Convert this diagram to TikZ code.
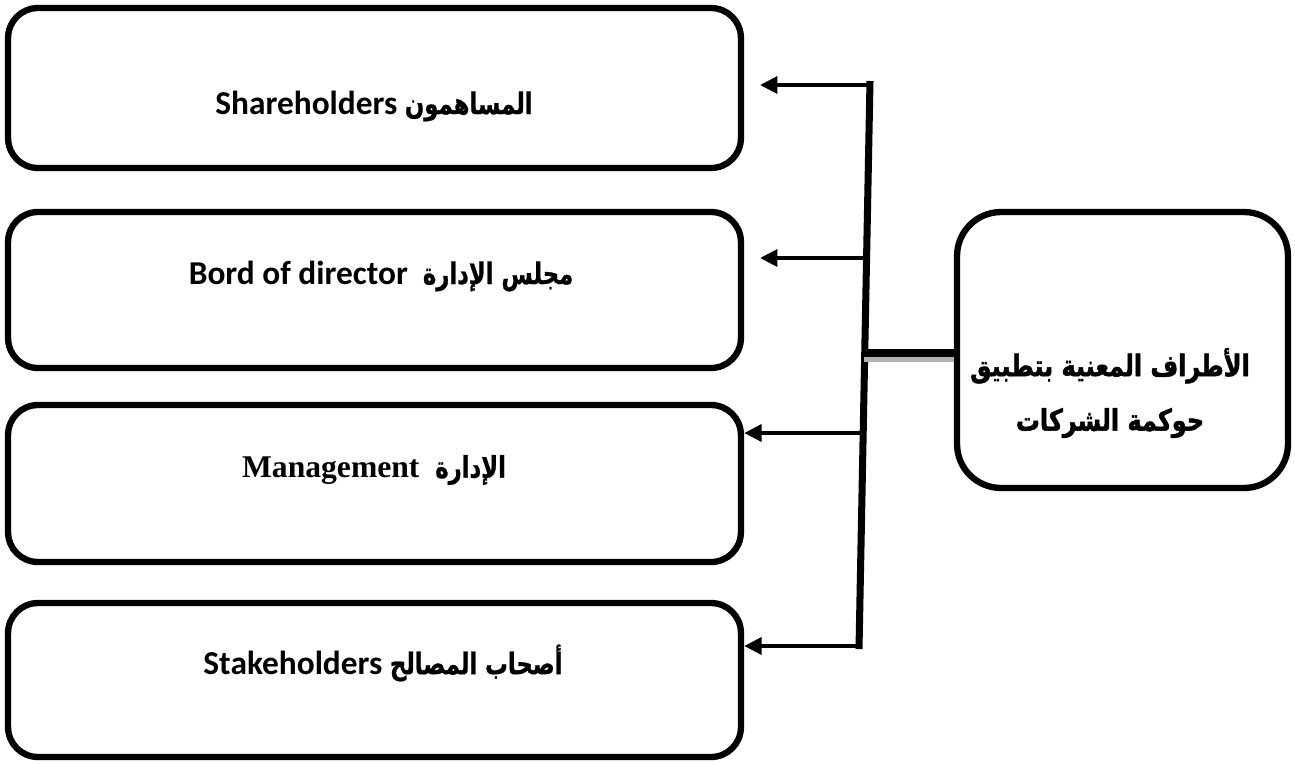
\documentclass[tikz,border=0pt]{standalone}
\usepackage{fontspec}
\setmainfont{Liberation Serif}
\newfontfamily\calibrifont{Carlito}
\newfontfamily\arabicfont[Script=Arabic, FakeStretch=0.76, FakeBold=0.8]{DejaVu Sans}
\newfontfamily\arabictitle[Script=Arabic, FakeStretch=0.8, FakeBold=1.6]{DejaVu Sans}
\TeXXeTstate=1
\usetikzlibrary{arrows.meta}

\begin{document}
\begin{tikzpicture}[x=0.02cm, y=-0.02cm,
  partybox/.style={draw, line width=3.6pt, rounded corners=17pt,
    minimum width=14.66cm, inner sep=0pt},
  govbox/.style={draw, line width=3.6pt, rounded corners=25pt,
    minimum width=6.62cm, minimum height=5.52cm, inner sep=0pt},
  latinlabel/.style={font=\calibrifont\bfseries\fontsize{19}{23}\selectfont},
  seriflabel/.style={font=\bfseries\fontsize{18}{22}\selectfont},
  arlabel/.style={font=\arabictitle\bfseries\fontsize{17}{31}\selectfont, align=center},
  trunk/.style={line width=4pt},
  branch/.style={line width=2.7pt, -{Triangle[length=10pt,width=9.5pt]}},
]
\useasboundingbox (0,0) rectangle (1295,765);

% the four parties on the left
\node[partybox, minimum height=3.2cm]  (sh)  at (374.5,88)  {};
\node[partybox, minimum height=3.12cm] (bod) at (374.5,290) {};
\node[partybox, minimum height=3.14cm] (mgt) at (374.5,483.5) {};
\node[partybox, minimum height=3.08cm] (stk) at (374.5,680) {};

\newcommand\arpart[1]{{\arabicfont\bfseries\fontsize{17}{20}\selectfont\beginR #1\endR}}
\node[latinlabel] (shT)  at (374,106) {Shareholders \arpart{المساهمون}};
\node[latinlabel] (bodT) at (381,276) {Bord of director\ \ \arpart{مجلس الإدارة}};
\node[seriflabel] (mgtT) at (374,470) {Management\ \ \arpart{الإدارة}};
\node[latinlabel] (stkT) at (383,663) {Stakeholders \arpart{أصحاب المصالح}};

% the governance box on the right
\node[govbox] (gov) at (1122.5,350) {};
\node[arlabel] (govT) at (1110,393) {\beginR الأطراف المعنية بتطبيق\endR\\ \beginR حوكمة الشركات\endR};

% vertical trunk and its junctions
\coordinate (tTop) at (870,81);
\coordinate (tBot) at (859,649);
\coordinate (j1) at (870,85);
\coordinate (j2) at (866.3,258);
\coordinate (jh) at (864.4,353);
\coordinate (j3) at (862.9,433);
\coordinate (j4) at (859,646);
\draw[trunk] (tTop) -- (tBot);

% branch arrows to each party
\draw[branch, shorten >=9pt] (j1) -- (j1 -| sh.east);
\draw[branch, shorten >=9pt] (j2) -- (j2 -| bod.east);
\draw[branch] (j3) -- (j3 -| mgt.east);
\draw[branch] (j4) -- (j4 -| stk.east);

% link from the trunk to the governance box, with its soft shadow
\draw[line width=4pt, gray!60] ([yshift=-3pt]jh) -- ([yshift=-3pt]jh -| gov.west);
\draw[trunk] (jh) -- (jh -| gov.west);
\end{tikzpicture}
\end{document}
